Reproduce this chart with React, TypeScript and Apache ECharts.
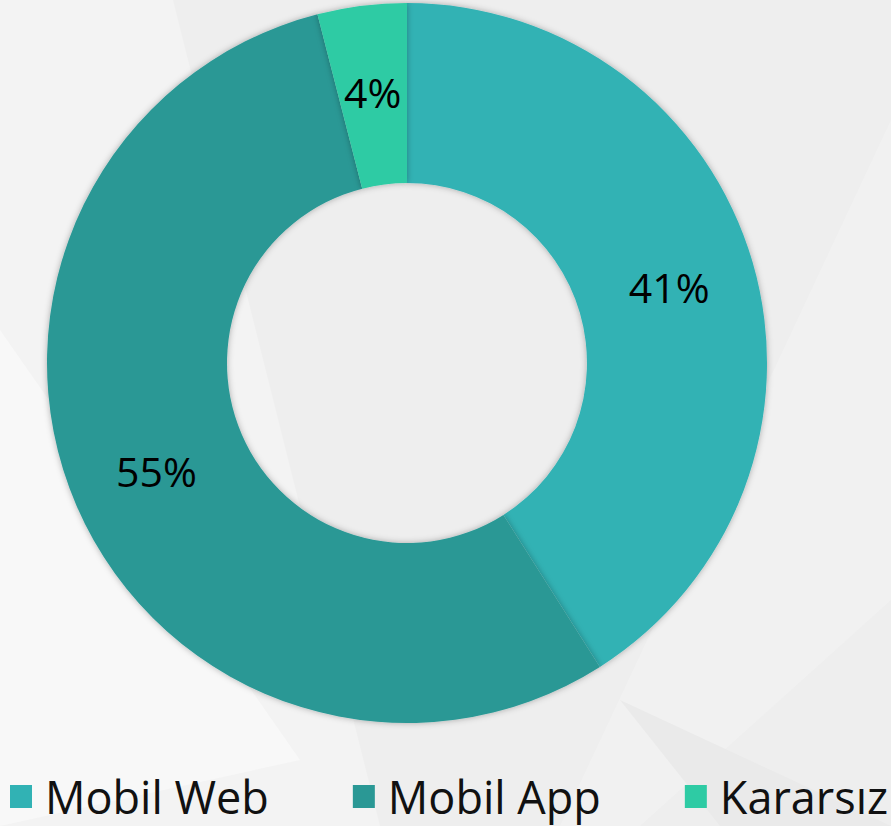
import React, { useEffect, useRef } from "react";
import * as echarts from "echarts";

const categories = ["Mobil Web", "Mobil App", "Kararsız"];
const values = [41, 55, 4];
const colors = ["#31B2B4", "#2A9895", "#2ECBA4"];

export default function App() {
  const ref = useRef<HTMLDivElement>(null);
  useEffect(() => {
    const chart = echarts.init(ref.current!, null, { renderer: "svg" });
    chart.setOption({
      animation: false,
      backgroundColor: "#eeeeee",
      graphic: [
        { type: "polygon", silent: true, z: -10, shape: { points: [[0, 0], [173, 0], [380, 826], [0, 826]] }, style: { fill: "#f3f3f3" } },
        { type: "polygon", silent: true, z: -9, shape: { points: [[0, 330], [300, 760], [0, 826]] }, style: { fill: "#f8f8f8" } },
        { type: "polygon", silent: true, z: -10, shape: { points: [[891, 120], [891, 600], [640, 826], [560, 826]] }, style: { fill: "#f1f1f1" } },
        { type: "polygon", silent: true, z: -10, shape: { points: [[620, 700], [891, 826], [720, 826]] }, style: { fill: "#eaeaea" } },
      ],
      legend: {
        data: categories,
        left: 10,
        bottom: 7,
        padding: 0,
        width: 881,
        itemWidth: 22,
        itemHeight: 23,
        itemGap: 84,
        icon: "rect",
        textStyle: { fontFamily: "Open Sans", fontSize: 45, color: "#111", padding: [0, 0, 0, 8] },
      },
      series: [
        {
          type: "pie",
          center: [407, 363],
          radius: [180, 360],
          startAngle: 90,
          clockwise: true,
          label: {
            show: true,
            position: "inside",
            formatter: "{c}%",
            fontFamily: "Open Sans",
            fontSize: 41,
            color: "#000",
          },
          labelLine: { show: false },
          itemStyle: { shadowBlur: 6, shadowColor: "rgba(0,0,0,0.3)" },
          emphasis: { disabled: true },
          data: categories.map((n, i) => ({ name: n, value: values[i], itemStyle: { color: colors[i] } })),
        },
      ],
    });
    return () => chart.dispose();
  }, []);
  return <div ref={ref} style={{ position: "fixed", left: 0, top: 0, width: 891, height: 826 }} />;
}
